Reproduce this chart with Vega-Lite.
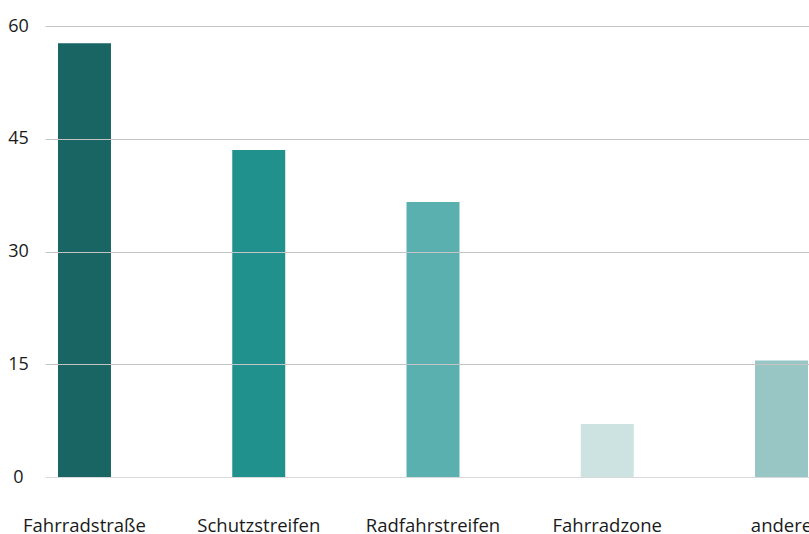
{
  "$schema": "https://vega.github.io/schema/vega-lite/v6.json",
  "autosize": {"type": "none"},
  "padding": {"left": 45, "top": 26, "right": 0, "bottom": 57},
  "width": 776,
  "height": 451,
  "background": "white",
  "data": {
    "values": [
      {"kategorie": "Fahrradstraße", "wert": 57.7},
      {"kategorie": "Schutzstreifen", "wert": 43.5},
      {"kategorie": "Radfahrstreifen", "wert": 36.6},
      {"kategorie": "Fahrradzone", "wert": 7.05},
      {"kategorie": "andere", "wert": 15.5}
    ]
  },
  "mark": {"type": "bar"},
  "encoding": {
    "x": {
      "field": "kategorie",
      "type": "nominal",
      "sort": null,
      "scale": {"paddingInner": 0.696, "paddingOuter": 0.0746},
      "axis": {
        "title": null,
        "labelAngle": 0,
        "domain": false,
        "ticks": false,
        "tickSize": 0,
        "labelPadding": 54,
        "labelBaseline": "alphabetic",
        "labelFont": "Open Sans",
        "labelFontSize": 18.5,
        "labelColor": "#1a1a1a"
      }
    },
    "y": {
      "field": "wert",
      "type": "quantitative",
      "scale": {"domain": [0, 60], "nice": false},
      "axis": {
        "title": null,
        "values": [0, 15, 30, 45, 60],
        "domain": false,
        "ticks": false,
        "tickSize": 0,
        "labelPadding": 27,
        "labelAlign": "center",
        "labelFont": "Open Sans",
        "labelFontSize": 18,
        "labelColor": "#1a1a1a",
        "gridColor": {"condition": {"test": "datum.value === 0", "value": "#d9d9d9"}, "value": "#c4c4c4"},
        "gridWidth": 1,
        "zindex": 1
      }
    },
    "color": {
      "field": "kategorie",
      "type": "nominal",
      "scale": {
        "domain": ["Fahrradstraße", "Schutzstreifen", "Radfahrstreifen", "Fahrradzone", "andere"],
        "range": ["#186564", "#21918e", "#5ab0ae", "#cde3e2", "#97c6c5"]
      },
      "legend": null
    }
  },
  "config": {"view": {"stroke": null}}
}
